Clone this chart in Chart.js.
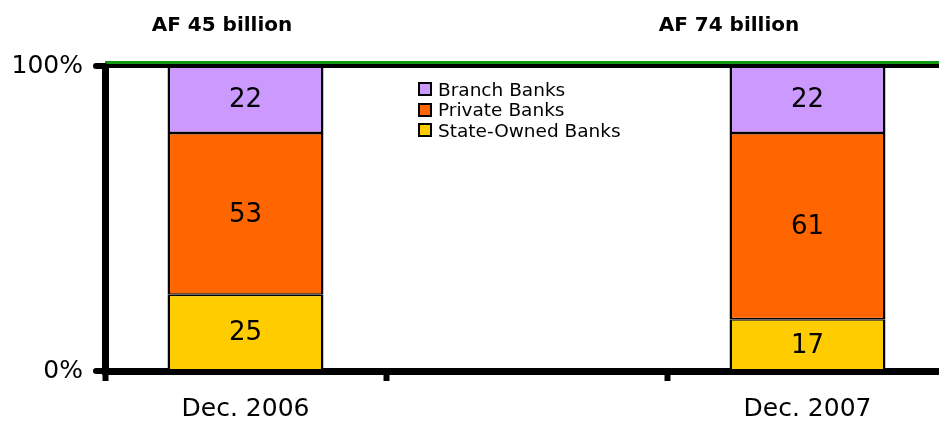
<!DOCTYPE html>
<html>
<head>
<meta charset="utf-8">
<script src="https://cdn.jsdelivr.net/npm/chart.js@4/dist/chart.umd.min.js"></script>
<style>
  html, body { margin: 0; padding: 0; background: #fff; overflow: hidden; width: 939px; height: 426px; }
  #wrap { position: relative; width: 948px; height: 426px; }
  .ttl { position: absolute; top: 12px; font: bold 20px "DejaVu Sans", sans-serif; color: #000; transform: translateX(-50%); white-space: nowrap; }
  #legend { position: absolute; left: 418px; top: 79px; font: 18.5px "DejaVu Sans", sans-serif; color: #000; }
  #legend .row { display: flex; align-items: center; height: 20.5px; }
  #legend .box { width: 10px; height: 10px; border: 2px solid #000; margin-right: 6px; }
</style>
</head>
<body>
<div id="wrap">
  <canvas id="c" width="948" height="426"></canvas>
  <div class="ttl" style="left:222px">AF 45 billion</div>
  <div class="ttl" style="left:729px">AF 74 billion</div>
  <div id="legend"></div>
</div>
<script>
// data
const categories = ['Dec. 2006', '', 'Dec. 2007'];
const seriesNames = ['State-Owned Banks', 'Private Banks', 'Branch Banks'];
const stateOwned = [25, null, 17];
const privateBanks = [53, null, 61];
const branchBanks = [22, null, 22];
const colors = ['#FFCC00', '#FF6600', '#CC99FF'];
const yTicks = [0, 100];

const values = [stateOwned, privateBanks, branchBanks];

// legend (top series first)
document.getElementById('legend').innerHTML = seriesNames.map((n, i) => `
  <div class="row"><span class="box" style="background:${colors[i]}"></span>${n}</div>`).reverse().join('');

const barLabels = {
  id: 'barLabels',
  afterDatasetsDraw(chart) {
    const ctx = chart.ctx;
    ctx.save();
    ctx.font = '26px "DejaVu Sans", sans-serif';
    ctx.fillStyle = '#000';
    ctx.textAlign = 'center';
    ctx.textBaseline = 'middle';
    chart.data.datasets.forEach((ds, di) => {
      chart.getDatasetMeta(di).data.forEach((el, i) => {
        if (ds.data[i] == null) return;
        ctx.fillText(ds.data[i], el.x, (el.y + el.base) / 2 + 1);
      });
    });
    ctx.restore();
  }
};

const topLine = {
  id: 'topLine',
  afterDraw(chart) {
    const ctx = chart.ctx, a = chart.chartArea;
    const y = chart.scales.y.getPixelForValue(100);
    ctx.save();
    ctx.fillStyle = '#000';
    ctx.fillRect(a.left, y - 2, chart.width - a.left, 4);
    ctx.fillStyle = '#119911';
    ctx.fillRect(a.left, y - 5, chart.width - a.left, 3);
    // rounded tick stubs on the left
    ctx.lineCap = 'round';
    ctx.lineWidth = 6;
    ctx.strokeStyle = '#000';
    yTicks.forEach(t => {
      const ty = chart.scales.y.getPixelForValue(t);
      ctx.beginPath(); ctx.moveTo(a.left - 9, ty); ctx.lineTo(a.left, ty); ctx.stroke();
    });
    ctx.restore();
  }
};

new Chart(document.getElementById('c'), {
  type: 'bar',
  data: {
    labels: categories,
    datasets: seriesNames.map((n, i) => ({
      label: n,
      data: values[i],
      backgroundColor: colors[i],
      borderColor: '#000',
      borderWidth: { left: 2.5, right: 2.5, top: 1.5, bottom: 1.5 },
      borderSkipped: false,
      barPercentage: 0.555,
      categoryPercentage: 1
    }))
  },
  options: {
    responsive: false,
    animation: false,
    layout: { padding: { top: 66, right: 0, left: 0, bottom: 0 } },
    plugins: { legend: { display: false }, tooltip: { enabled: false } },
    scales: {
      x: {
        stacked: true,
        afterFit(s) { s.height = 55; },
        border: { display: true, color: '#000', width: 7 },
        grid: { offset: true, drawOnChartArea: false, drawTicks: true, tickLength: 10, tickWidth: 6, tickColor: '#000' },
        ticks: { color: '#000', padding: 13, font: { family: 'DejaVu Sans', size: 25 }, maxRotation: 0, autoSkip: false }
      },
      y: {
        stacked: true,
        min: 0, max: 100,
        afterFit(s) { s.width = 105; },
        afterBuildTicks(s) { s.ticks = yTicks.map(v => ({ value: v })); },
        border: { display: true, color: '#000', width: 7 },
        grid: { drawOnChartArea: false, drawTicks: false },
        ticks: { color: '#000', padding: 22, font: { family: 'DejaVu Sans', size: 25 }, callback: v => v + '%' }
      }
    }
  },
  plugins: [barLabels, topLine]
});
</script>
</body>
</html>
